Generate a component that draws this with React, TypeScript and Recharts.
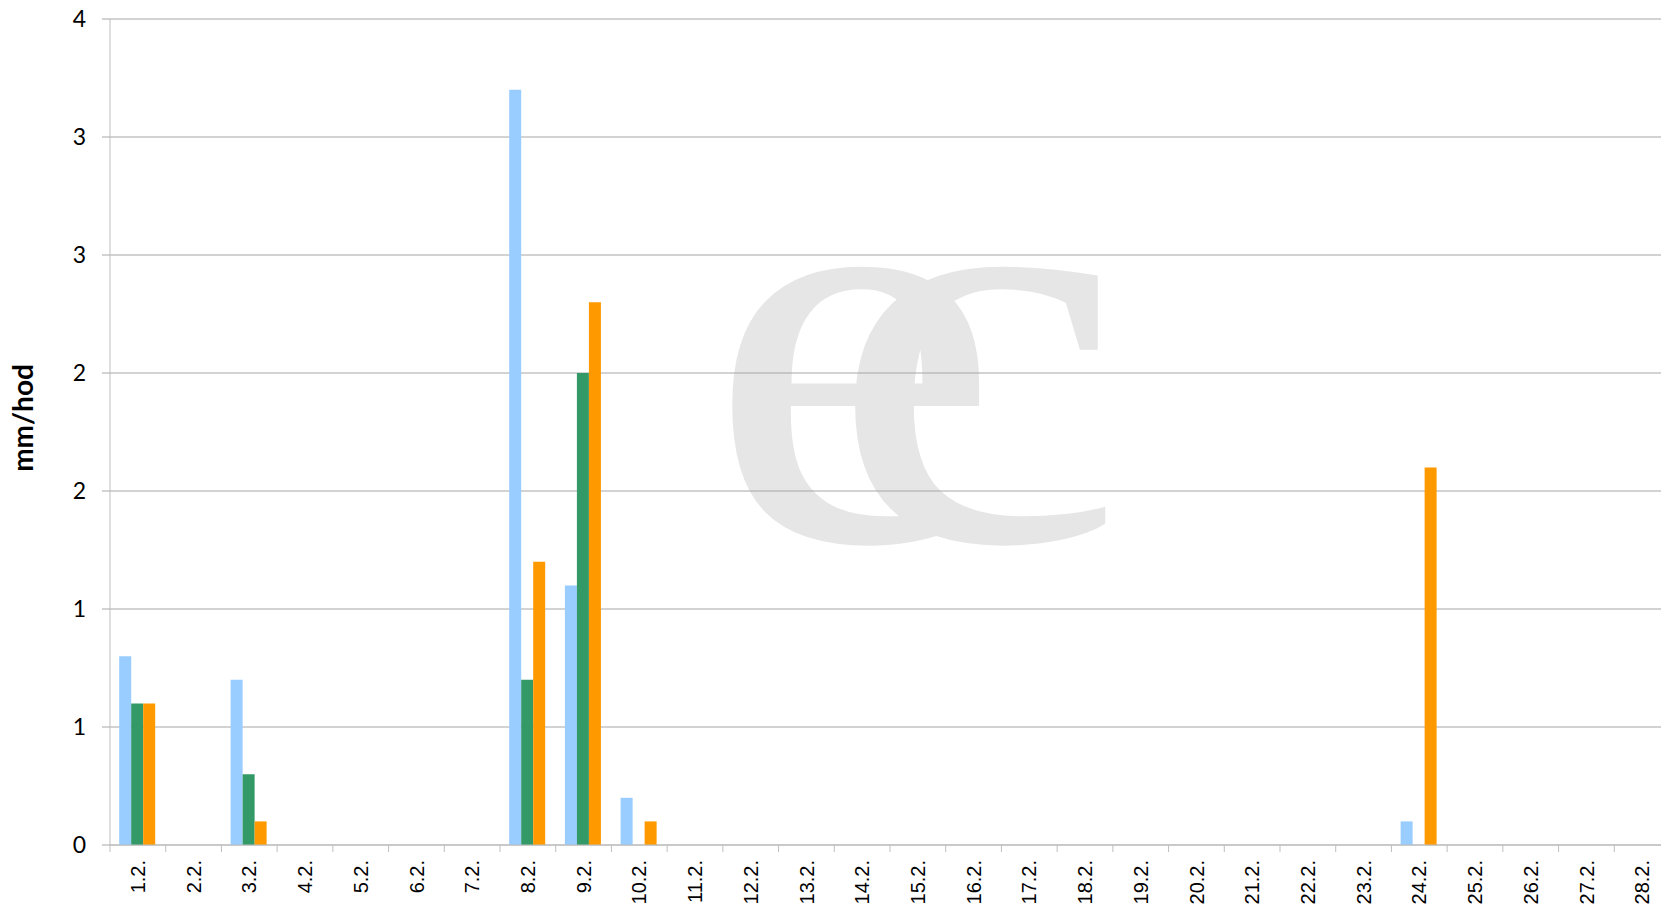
import React from 'react';
import { BarChart, Bar, XAxis, YAxis, CartesianGrid } from 'recharts';

// Days of February
const days = [
  '1.2.', '2.2.', '3.2.', '4.2.', '5.2.', '6.2.', '7.2.', '8.2.', '9.2.', '10.2.',
  '11.2.', '12.2.', '13.2.', '14.2.', '15.2.', '16.2.', '17.2.', '18.2.', '19.2.', '20.2.',
  '21.2.', '22.2.', '23.2.', '24.2.', '25.2.', '26.2.', '27.2.', '28.2.',
];

// mm/hod for the three series (light blue, green, orange)
const rainA = [0.8, 0, 0.7, 0, 0, 0, 0, 3.2, 1.1, 0.2, 0, 0, 0, 0, 0, 0, 0, 0, 0, 0, 0, 0, 0, 0.1, 0, 0, 0, 0];
const rainB = [0.6, 0, 0.3, 0, 0, 0, 0, 0.7, 2.0, 0, 0, 0, 0, 0, 0, 0, 0, 0, 0, 0, 0, 0, 0, 0, 0, 0, 0, 0];
const rainC = [0.6, 0, 0.1, 0, 0, 0, 0, 1.2, 2.3, 0.1, 0, 0, 0, 0, 0, 0, 0, 0, 0, 0, 0, 0, 0, 1.6, 0, 0, 0, 0];

const yTicks = [0, 0.5, 1, 1.5, 2, 2.5, 3, 3.5];

const data = days.map((day, i) => ({ day, a: rainA[i], b: rainB[i], c: rainC[i] }));

const CHART_W = 1670;
const CHART_H = 909;
const Y_AXIS_W = 110;
const X_AXIS_H = 64;
const BAND = (CHART_W - Y_AXIS_W) / days.length;

const XTick = (props: any) => {
  const { x, y, payload } = props;
  const bx = x - BAND / 2;
  return (
    <g>
      <line x1={bx} y1={y} x2={bx} y2={y + 7} stroke="#bfbfbf" />
      {payload.index === days.length - 1 && (
        <line x1={bx + BAND} y1={y} x2={bx + BAND} y2={y + 7} stroke="#bfbfbf" />
      )}
      <text
        transform={`translate(${x},${y + 15}) rotate(-90)`}
        textAnchor="end"
        dy="0.36em"
        fontFamily="'Liberation Sans', Arial, sans-serif"
        fontSize={20}
        fill="#000"
      >
        {payload.value}
      </text>
    </g>
  );
};

const YLabel = () => (
  <text
    x={22}
    y={418}
    transform="rotate(-90 22 418)"
    textAnchor="middle"
    dominantBaseline="central"
    fontFamily="Lato, 'Open Sans', sans-serif"
    fontWeight="bold"
    fontSize={28}
    fill="#000"
  >
    mm/hod
  </text>
);

export default function App() {
  return (
    <div style={{ position: 'absolute', left: 0, top: 0, width: 1661, height: 909, overflow: 'hidden', background: '#fff' }}>
      {/* watermark logo, drawn under the grid */}
      <svg width={1661} height={909} style={{ position: 'absolute', left: 0, top: 0 }}>
        <text
          x={708}
          y={540}
          transform="translate(720,0) scale(1.15,1) translate(-720,0)"
          fontFamily="'Liberation Serif', 'Times New Roman', serif"
          fontSize={580}
          letterSpacing={-150}
          fill="#e6e6e6"
        >
          ec
        </text>
      </svg>
      <div style={{ position: 'absolute', left: 0, top: 0 }}>
        <BarChart
          width={CHART_W}
          height={CHART_H}
          data={data}
          margin={{ top: 19, right: 0, left: 0, bottom: 0 }}
          barCategoryGap="16.5%"
          barGap={0}
        >
          <CartesianGrid vertical={false} stroke="#a6a6a6" />
          <XAxis
            dataKey="day"
            height={X_AXIS_H}
            interval={0}
            tickSize={0}
            tickMargin={0}
            tickLine={false}
            axisLine={{ stroke: '#bfbfbf' }}
            tick={<XTick />}
          />
          <YAxis
            width={Y_AXIS_W}
            domain={[0, 3.5]}
            ticks={yTicks}
            interval={0}
            tickFormatter={(v: number) => String(Math.round(v))}
            tickSize={8}
            tickMargin={16}
            tickLine={{ stroke: '#a6a6a6' }}
            axisLine={{ stroke: '#bfbfbf' }}
            tick={{ fill: '#000', fontSize: 23, fontFamily: 'Lato, sans-serif' }}
            label={<YLabel />}
          />
          <Bar dataKey="a" fill="#99ccff" isAnimationActive={false} />
          <Bar dataKey="b" fill="#339966" isAnimationActive={false} />
          <Bar dataKey="c" fill="#ff9900" isAnimationActive={false} />
        </BarChart>
      </div>
    </div>
  );
}
